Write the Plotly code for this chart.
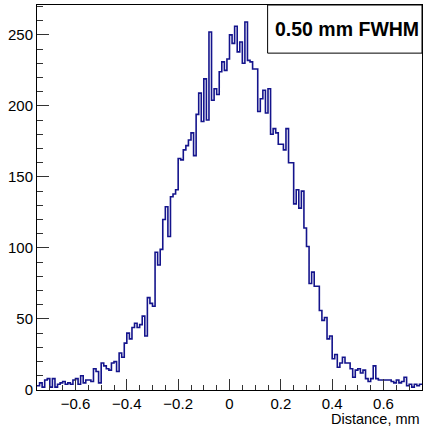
import numpy as np
import plotly.graph_objects as go

# Histogram: 150 bins of 0.01 mm from -0.75 to 0.75
bin_low = -0.75
bin_width = 0.01
counts = [
    3, 5, 2, 7, 8, 2, 8, 2, 4, 5,
    6, 4, 5, 4, 7, 8, 4, 10, 5, 7,
    7, 6, 15, 13, 5, 19, 17, 15, 14, 19,
    20, 13, 26, 23, 33, 40, 36, 44, 47, 44,
    46, 52, 38, 65, 61, 59, 97, 88, 99, 120,
    129, 108, 136, 138, 141, 163, 162, 169, 172, 176,
    181, 165, 194, 209, 189, 219, 190, 252, 204, 212,
    208, 224, 231, 225, 233, 250, 244, 256, 238, 245,
    230, 259, 232, 231, 226, 226, 196, 205, 211, 195,
    212, 180, 184, 181, 173, 173, 169, 184, 160, 160,
    131, 141, 128, 140, 114, 101, 75, 83, 73, 73,
    56, 49, 51, 36, 38, 22, 25, 16, 19, 23,
    19, 19, 15, 9, 14, 15, 12, 14, 8, 6,
    8, 17, 8, 7, 7, 7, 7, 7, 6, 5,
    7, 5, 6, 9, 3, 4, 2, 4, 3, 4,
]
x_tickvals = [-0.6, -0.4, -0.2, 0, 0.2, 0.4, 0.6]
x_ticktext = ["\u22120.6", "\u22120.4", "\u22120.2", "0", "0.2", "0.4", "0.6"]
y_tickvals = [0, 50, 100, 150, 200, 250]
label_text = "<b>0.50 mm FWHM</b>"
x_title = "Distance, mm"

n = len(counts)
edges = np.round(bin_low + bin_width * np.arange(n + 1), 4)
xs = list(edges)
ys = list(counts) + [counts[-1]]

fig = go.Figure()
fig.add_trace(go.Scatter(
    x=xs, y=ys, mode="lines", line_shape="hv",
    line=dict(color="#14148c", width=1.6),
    hoverinfo="skip", showlegend=False,
))

font = dict(family="Liberation Sans, Arial, Helvetica, sans-serif", color="black")

fig.update_layout(
    width=423, height=427,
    margin=dict(l=37, r=1, t=5, b=37),
    paper_bgcolor="white", plot_bgcolor="white",
    font=dict(**font, size=15),
    xaxis=dict(
        range=[-0.75, 0.75], showgrid=False, zeroline=False,
        showline=True, linecolor="black", linewidth=1, mirror=True,
        ticks="inside", ticklen=11, tickcolor="#333", tickwidth=1,
        tickvals=x_tickvals, ticktext=x_ticktext,
        minor=dict(ticks="inside", ticklen=5.5, dtick=0.05, tick0=0, tickcolor="#333", showgrid=False),
        tickfont=dict(**font, size=15),
    ),
    yaxis=dict(
        range=[0, 271], showgrid=False, zeroline=False,
        showline=True, linecolor="black", linewidth=1, mirror=True,
        ticks="inside", ticklen=12, tickcolor="#333", tickwidth=1,
        tickvals=y_tickvals,
        minor=dict(ticks="inside", ticklen=6, dtick=10, tick0=0, tickcolor="#333", showgrid=False),
        tickfont=dict(**font, size=15),
    ),
    shapes=[dict(
        type="rect", xref="paper", yref="paper",
        x0=0.599, x1=1.0, y0=0.875, y1=1.0,
        line=dict(color="black", width=1), fillcolor="white", layer="above",
    )],
    annotations=[
        dict(text=label_text, xref="paper", yref="paper", x=0.805, y=0.9375,
             xanchor="center", yanchor="middle", showarrow=False,
             font=dict(**font, size=19.5)),
        dict(text=x_title, xref="paper", yref="paper", x=1.0, y=0,
             xanchor="right", yanchor="top", yshift=-19, showarrow=False,
             font=dict(**font, size=14.5)),
    ],
)

fig.write_html(
    "out.html",
    config={"displayModeBar": False, "staticPlot": True},
    post_script="document.body.style.margin='0';document.body.style.padding='0';document.body.style.overflow='hidden';",
)
